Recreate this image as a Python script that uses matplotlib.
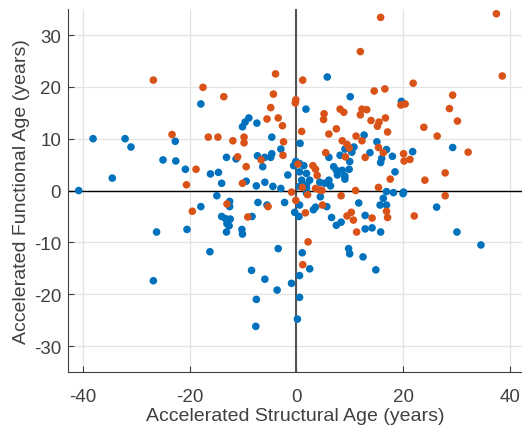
import matplotlib
matplotlib.use("Agg")
import matplotlib.pyplot as plt

# blue group
blue_x = [-17.9, -38.1, -32.1, -31.0, -22.7, -25.0, -22.6, -20.8, -16.1, -14.6, -34.5, -40.8, -14.0,
          -14.9, -17.9, -26.2, -20.5, -16.2, -26.8, -14.0,
          5.8, 10.1, 1.8, -8.9, -9.6, -10.1, -7.4, -4.6, 0.7, 9.1, 10.8, 10.4, 12.7, -2.9, -4.6, -4.8,
          -5.9, -7.3, -6.3, -13.1, -11.3, 6.1, 8.2, 10.0, -0.5, -0.1, 0.6, 1.4, 0.6, 1.9, 1.0, 1.9, 2.5,
          -1.6, 7.0, 7.5, 7.7, 9.1, 8.6, 9.9, -9.4, -7.5, -5.9, -4.4, -2.9, 4.4, 5.3, 6.1, 6.4, 9.1,
          0.6, 1.9, 1.9, 4.5, 5.7, 11.7, -12.5, -12.5, -7.2, -5.5, -2.2, 0.6, -0.3, 0.5, 3.2, 3.6,
          -13.3, -12.4, -13.0, -12.6, -13.1, -8.3, -10.2, -10.1, 6.6, 7.5, 8.4, 12.9, 12.9, -3.4, 1.1,
          2.5, 9.8, 10.0, 12.5, -8.4, -5.9, -0.9, 0.6, -3.6, -7.5, 0.6, 0.2, -7.6,
          19.7, 15.1, 16.9, 16.0, 15.8, 18.0, 13.8, 21.8, 29.3, 18.5, 16.9, 18.2, 20.1, 20.0,
          16.3, 15.7, 16.9, 26.3, 14.2, 15.8, 30.1, 34.6, 14.9]
blue_y = [16.7, 10.0, 10.0, 8.4, 9.5, 5.9, 5.7, 4.1, 3.2, 3.5, 2.4, 0.0, 1.4,
          -1.0, -3.1, -8.0, -7.5, -11.8, -17.4, -5.0,
          21.9, 18.1, 15.7, 14.0, 13.2, 12.3, 13.0, 10.3, 9.1, 8.0, 8.4, 7.4, 10.7, 8.0, 7.1, 6.4,
          6.4, 6.7, 4.6, 6.4, 6.1, 6.4, 6.8, 5.6, 4.8, 5.6, 5.2, 4.8, 3.6, 3.3, 2.0, 1.1, 2.0,
          3.0, 4.6, 3.9, 3.0, 2.8, 3.9, 4.1, 1.8, 0.9, 1.6, 0.8, 0.4, 1.6, 1.4, 2.0, 0.9, 2.2,
          0.8, 0.4, -0.5, -1.2, -3.1, -2.4, -2.1, -3.1, -2.3, -2.8, -2.3, -2.8, -4.2, -5.0, -3.7, -3.2,
          -5.4, -5.5, -6.4, -6.8, -8.0, -5.0, -7.5, -8.4, -5.2, -6.7, -6.1, -4.8, -7.4, -11.2, -12.0,
          -15.1, -11.2, -12.2, -12.8, -15.4, -17.1, -17.9, -16.4, -19.2, -21.0, -20.6, -24.8, -26.2,
          17.2, 9.4, 7.9, 6.2, 5.4, 6.6, 7.3, 7.5, 8.3, 3.6, -0.2, -0.4, -0.3, -0.6,
          -1.5, -2.8, -2.8, -3.2, -7.2, -8.0, -8.0, -10.5, -15.3]

# orange group
orange_x = [-26.8, -17.5, -23.3, -16.5, -14.7, -18.8, -20.6, -19.5,
            12.0, -3.9, 1.2, -13.6, -4.3, -0.1, -0.2, -4.8, 5.2, 5.1, 8.2, 8.9, 12.3, 13.2, 12.0,
            -5.5, -3.4, -2.6, 7.5, 6.1, 1.0, -11.9, -9.8, -9.8, -2.4, 8.6, 9.5, 9.9, 12.3, 11.2,
            -6.6, -2.5, -11.0, -9.4, 5.5, 9.2, 12.9, 0.3, 3.1, 3.6, 3.9, -10.1, 3.6, 4.4, -0.9,
            11.1, 1.1, 2.1, 4.8, 4.9, 8.4, -13.0, -5.3, -0.1, 1.7, -9.1, 9.5, 10.3, 10.7, 11.3,
            2.2, 1.2,
            15.8, 37.5, 38.6, 21.9, 14.6, 16.6, 29.3, 19.6, 20.4, 28.7, 30.2, 15.5, 15.2, 16.7,
            14.0, 17.1, 23.9, 26.4, 15.4, 16.3, 20.1, 20.2, 21.3, 32.2, 17.6, 24.1, 27.9, 15.4,
            27.9, 16.9, 17.1, 14.2, 22.1]
orange_y = [21.3, 19.9, 10.8, 10.3, 10.3, 4.1, 1.1, -4.0,
            26.8, 22.5, 21.3, 18.1, 18.6, 17.5, 16.9, 16.0, 14.8, 13.7, 15.7, 15.1, 15.7, 15.6, 14.6,
            13.8, 14.0, 12.5, 11.9, 10.9, 11.4, 9.6, 10.3, 9.2, 9.4, 9.6, 8.9, 8.2, 9.6, 10.5,
            5.9, 6.8, 6.5, 4.6, 7.3, 6.5, 6.4, 5.1, 4.8, 4.1, 2.9, 1.4, 0.4, 0.1, -0.3,
            0.0, 0.6, -0.8, 0.0, -2.8, -1.0, -2.6, -3.1, -1.9, -4.3, -5.1, -4.9, -4.2, -5.7, -8.0,
            -9.9, -14.3,
            33.4, 34.1, 22.1, 20.7, 19.2, 19.6, 18.4, 16.5, 16.7, 15.8, 13.4, 13.2, 12.4, 14.0,
            13.5, 11.3, 12.2, 10.5, 8.3, 7.3, 7.1, 5.7, 6.0, 7.4, 2.2, 2.0, 3.4, 0.6,
            -1.0, -4.0, -5.2, -5.3, -4.9]

x_ticks = [-40, -20, 0, 20, 40]
y_ticks = [-30, -20, -10, 0, 10, 20, 30]

plt.rcParams['font.family'] = ['Liberation Sans', 'DejaVu Sans']
plt.rcParams['axes.unicode_minus'] = False

fig = plt.figure(figsize=(5.22, 4.31), dpi=100)
ax = fig.add_axes([0.1303, 0.1346, 0.8697, 0.842])

ax.axvline(0, color='#555555', lw=1.5, zorder=1)
ax.axhline(0, color='black', lw=1.0, zorder=1)
ax.scatter(blue_x, blue_y, s=30, color='#0072BD', edgecolors='none', zorder=2)
ax.scatter(orange_x, orange_y, s=30, color='#D95319', edgecolors='none', zorder=3)

ax.set_xlim(-42.8, 42.3)
ax.set_ylim(-35, 35)
ax.set_xticks(x_ticks)
ax.set_yticks(y_ticks)
ax.grid(True, color='#e3e3e3', lw=0.9, zorder=0)
ax.set_axisbelow(True)
ax.tick_params(direction='in', length=4, width=0.8, colors='#404040', labelsize=13.5)
ax.tick_params(axis='x', pad=11.5)
ax.tick_params(axis='y', pad=5)
for side in ['top', 'right']:
    ax.spines[side].set_visible(False)
for side in ['left', 'bottom']:
    ax.spines[side].set_color('#404040')
    ax.spines[side].set_linewidth(0.8)

ax.set_xlabel('Accelerated Structural Age (years)', fontsize=14, color='#404040', labelpad=1.5)
ax.set_ylabel('Accelerated Functional Age (years)', fontsize=14, color='#404040', labelpad=3)

fig.savefig('out.png', dpi=100)
